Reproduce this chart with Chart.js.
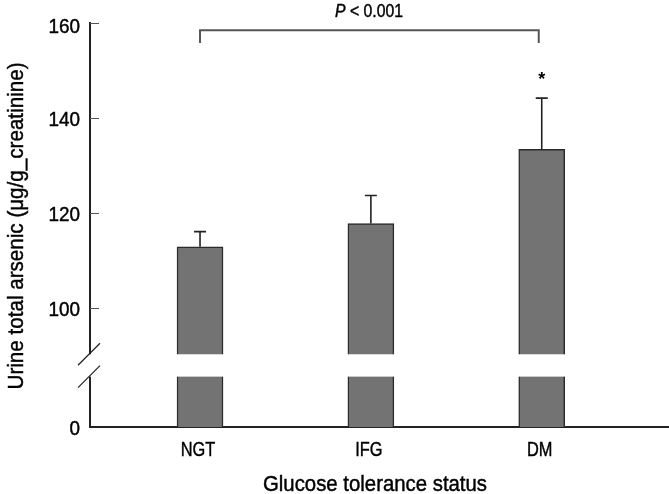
<!DOCTYPE html>
<html>
<head>
<meta charset="utf-8">
<title>Urine total arsenic by glucose tolerance status</title>
<script src="https://cdn.jsdelivr.net/npm/chart.js@4.4.1/dist/chart.umd.min.js"></script>
<style>
  body { margin: 0; background: #fff; }
  #wrap { width: 669px; height: 494px; }
</style>
</head>
<body>
<div id="wrap"><canvas id="arsenicChart" width="669" height="494"></canvas></div>
<script>
// values
const categories = ['NGT', 'IFG', 'DM'];
const meanValues = [112.9, 117.8, 133.4];
const errorTops = [116.1, 123.7, 144.2];
const yTicks = [100, 120, 140, 160];

// broken axis: everything below yMin is squeezed into the bottom segment
const yMin = 75;
const yMax = 160;
const breakTop = 90.3;
const breakBottom = 85.6;

const xTitle = 'Glucose tolerance status';
const yTitle = 'Urine total arsenic (μg/g_creatinine)';
const pLabel = '< 0.001';
const bracketLevel = 158.5;
const bracketFoot = 155.8;
const starLevel = 148.9;

// no condensed face is installed, so text is squeezed by hand
const FONT = "'Liberation Sans', Arial, sans-serif";
const INK = '#000';

function squeezed(ctx, text, x, y, sx, align) {
	ctx.save();
	ctx.translate(x, y);
	ctx.scale(sx, 1);
	ctx.textAlign = align;
	ctx.fillText(text, 0, 0);
	// a hairline stroke to get closer to the heavier print face
	ctx.lineWidth = 0.45;
	ctx.strokeStyle = INK;
	ctx.strokeText(text, 0, 0);
	ctx.restore();
}

const annotations = {
	id: 'annotations',
	afterDatasetsDraw(chart) {
		const ctx = chart.ctx;
		const x = chart.scales.x;
		const y = chart.scales.y;
		const area = chart.chartArea;
		ctx.save();

		// error bars (upper only)
		ctx.strokeStyle = '#222';
		ctx.lineWidth = 1.6;
		categories.forEach((c, i) => {
			const px = x.getPixelForValue(i + 1);
			const top = y.getPixelForValue(errorTops[i]);
			const base = y.getPixelForValue(meanValues[i]);
			ctx.beginPath();
			ctx.moveTo(px, base);
			ctx.lineTo(px, top);
			ctx.moveTo(px - 6, top);
			ctx.lineTo(px + 6, top);
			ctx.stroke();
		});

		// inward tick marks
		ctx.strokeStyle = '#555';
		ctx.lineWidth = 1;
		yTicks.forEach(v => {
			const py = Math.round(y.getPixelForValue(v)) + 0.5;
			ctx.beginPath();
			ctx.moveTo(area.left, py);
			ctx.lineTo(area.left + 9, py);
			ctx.stroke();
		});

		// axis break
		const bt = y.getPixelForValue(breakTop);
		const bb = y.getPixelForValue(breakBottom);
		ctx.fillStyle = '#fff';
		ctx.fillRect(area.left - 3, bt, area.right - area.left + 3, bb - bt);
		ctx.strokeStyle = '#222';
		ctx.lineWidth = 1.3;
		[bt, bb].forEach(py => {
			ctx.beginPath();
			ctx.moveTo(area.left - 12, py + 11);
			ctx.lineTo(area.left + 10, py - 11);
			ctx.stroke();
		});

		// comparison bracket
		const x1 = x.getPixelForValue(1);
		const x3 = x.getPixelForValue(3) - 3;
		const yb = y.getPixelForValue(bracketLevel);
		const yf = y.getPixelForValue(bracketFoot);
		ctx.strokeStyle = '#555';
		ctx.lineWidth = 2;
		ctx.beginPath();
		ctx.moveTo(x1, yf);
		ctx.lineTo(x1, yb);
		ctx.lineTo(x3, yb);
		ctx.lineTo(x3, yf);
		ctx.stroke();

		// ---- text ----
		ctx.fillStyle = INK;
		ctx.textBaseline = 'alphabetic';

		// y tick labels
		ctx.font = '21px ' + FONT;
		[yMin].concat(yTicks).forEach(v => {
			const py = y.getPixelForValue(v);
			const nudge = v === yMax ? 2 : 0;
			squeezed(ctx, v === yMin ? '0' : String(v), area.left - 10, py + 7.5 + nudge, 0.9, 'right');
		});

		// x tick labels
		categories.forEach((c, i) => {
			squeezed(ctx, c, x.getPixelForValue(i + 1) - 2, area.bottom + 29, 0.78, 'center');
		});

		// axis titles
		ctx.font = '22px ' + FONT;
		const xw = ctx.measureText(xTitle).width;
		squeezed(ctx, xTitle, (area.left + area.right) / 2 - 4, area.bottom + 64, 224 / xw, 'center');

		const yw = ctx.measureText(yTitle).width;
		ctx.save();
		ctx.translate(23, (area.top + area.bottom) / 2 + 1);
		ctx.rotate(-Math.PI / 2);
		squeezed(ctx, yTitle, 0, 0, 327 / yw, 'center');
		ctx.restore();

		// P value label, italic P
		ctx.font = 'italic 19px ' + FONT;
		const pW = ctx.measureText('P ').width;
		ctx.font = '19px ' + FONT;
		const restW = ctx.measureText(pLabel).width;
		const sx = 68 / (pW + restW);
		const startX = 369 - (pW + restW) * sx / 2;
		const ty = yb - 13;
		ctx.font = 'italic 19px ' + FONT;
		squeezed(ctx, 'P', startX, ty, sx, 'left');
		ctx.font = '19px ' + FONT;
		squeezed(ctx, pLabel, startX + pW * sx, ty, sx, 'left');

		// significance star over DM
		ctx.font = 'bold 18px ' + FONT;
		ctx.textAlign = 'center';
		ctx.fillText('*', x.getPixelForValue(3), y.getPixelForValue(starLevel) + 9);

		ctx.restore();
	}
};

new Chart(document.getElementById('arsenicChart'), {
	type: 'bar',
	data: {
		datasets: [{
			data: meanValues.map((v, i) => ({ x: i + 1, y: v })),
			backgroundColor: '#737373',
			borderColor: '#2a2a2a',
			borderWidth: 1.5,
			borderSkipped: 'bottom',
			barThickness: 46
		}]
	},
	options: {
		responsive: false,
		animation: false,
		devicePixelRatio: 1,
		layout: { padding: { top: 23, right: 1, left: 0, bottom: 0 } },
		plugins: { legend: { display: false }, tooltip: { enabled: false } },
		scales: {
			x: {
				type: 'linear',
				offset: false,
				min: 0.356,
				max: 3.739,
				grid: { display: false },
				border: { display: true, color: '#222', width: 2 },
				afterBuildTicks: s => { s.ticks = categories.map((c, i) => ({ value: i + 1 })); },
				afterFit: s => { s.height = 67; },
				ticks: { display: false }
			},
			y: {
				min: yMin,
				max: yMax,
				grid: { display: false },
				border: { display: true, color: '#222', width: 2 },
				afterBuildTicks: s => { s.ticks = [yMin].concat(yTicks).map(v => ({ value: v })); },
				afterFit: s => { s.width = 90; },
				ticks: { display: false }
			}
		}
	},
	plugins: [annotations]
});
</script>
</body>
</html>
